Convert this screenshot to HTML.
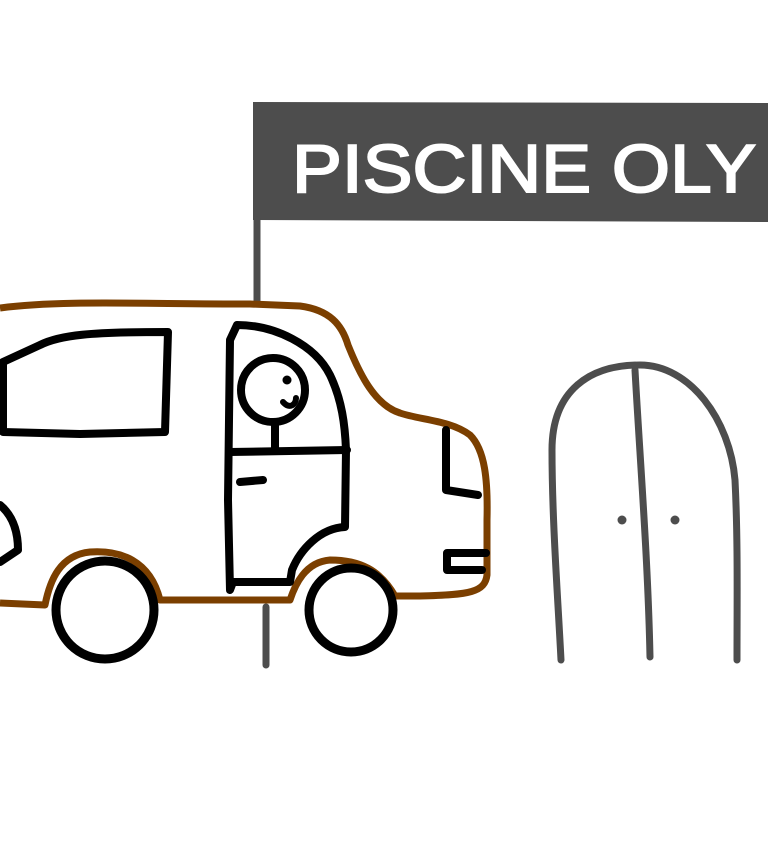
<!DOCTYPE html>
<html><head><style>html,body{margin:0;padding:0;background:#fff;width:768px;height:866px;overflow:hidden}</style></head>
<body>
<svg width="768" height="866" viewBox="0 0 768 866" xmlns="http://www.w3.org/2000/svg">
<rect width="768" height="866" fill="#fff"/>
<path d="M253 102 L768 103 L768 222 L253 220 Z" fill="#4d4d4d"/>
<text x="292" y="192" fill="#fff" stroke="#fff" stroke-width="2" font-family="Liberation Sans, sans-serif" font-size="68" textLength="464" lengthAdjust="spacingAndGlyphs">PISCINE OLY</text>
<line x1="257" y1="220" x2="257" y2="305" stroke="#4d4d4d" stroke-width="7" stroke-linecap="round"/>
<line x1="266" y1="607" x2="266" y2="665" stroke="#4d4d4d" stroke-width="7" stroke-linecap="round"/>
<g fill="none" stroke="#4d4d4d" stroke-width="7" stroke-linecap="round">
<path d="M561 660 C558 600 552 520 552 450 C552 390 590 365 640 365 C690 365 730 420 735 480 C738 540 737 600 737 660"/>
<path d="M635 370 C640 460 648 560 650 657"/>
</g>
<circle cx="622" cy="520" r="4.5" fill="#4d4d4d"/>
<circle cx="675" cy="520" r="4.5" fill="#4d4d4d"/>
<path d="M0 308 C60 300 140 304 250 304 L300 306 C330 310 342 325 348 345 C360 375 375 405 400 413 C420 420 450 420 470 435 C485 450 488 480 487 520 L487 575 C485 592 470 595 420 596 L395 596 C380 570 360 560 330 560 C305 562 295 585 290 600 L160 600 C150 560 120 550 90 552 C60 555 50 580 45 605 L0 603" fill="#fff" stroke="#7b3f00" stroke-width="7" stroke-linejoin="round"/>
<g fill="none" stroke="#000" stroke-width="8" stroke-linecap="round" stroke-linejoin="round">
<path d="M3 362 L40 345 C60 335 90 332 168 332 L165 432 L80 434 L3 432 Z"/>
<path d="M0 505 C12 515 18 530 18 550 L0 562"/>
<path d="M237 325 C275 325 315 345 330 375 C342 400 345 425 346 450 L345 527 C320 528 300 550 292 570 L290 582 L233 582 L230 590 L228 500 L230 340 Z"/>
<path d="M230 452 L347 450"/>
<circle cx="273" cy="390" r="32"/>
<path d="M275 423 L275 450"/>
<path d="M240 482 L263 480"/>
<path d="M446 430 L446 490 L478 495"/>
<path d="M486 553 L447 553 L447 570 L482 570"/>
<circle cx="105" cy="610" r="49" stroke-width="9"/>
<circle cx="351" cy="610" r="42" stroke-width="9"/>
</g>
<circle cx="287" cy="380" r="4.5" fill="#000"/>
<path d="M283 402 C290 410 296 404 296 398" stroke="#000" stroke-width="6" fill="none" stroke-linecap="round"/>
</svg>
</body></html>
